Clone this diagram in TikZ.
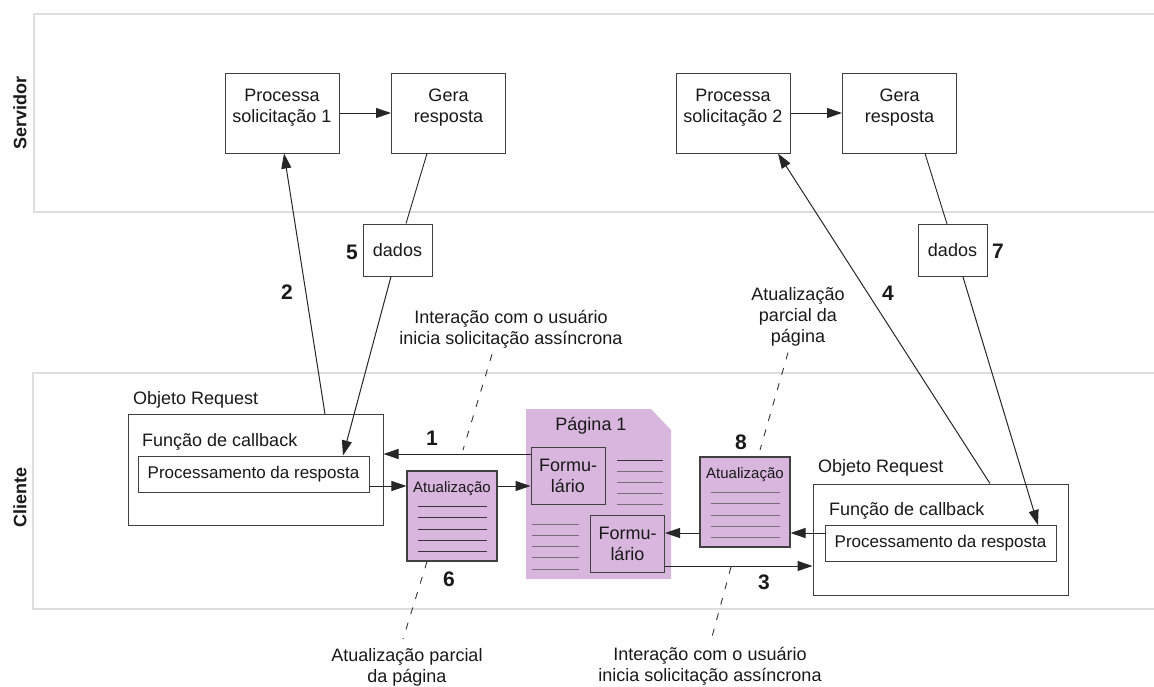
\documentclass[tikz,border=0pt]{standalone}
\usepackage{fontspec}
\setmainfont{Liberation Sans}
\usetikzlibrary{arrows,arrows.meta,calc}
\definecolor{lilas}{RGB}{216,182,222}
\definecolor{linhaescura}{RGB}{60,50,62}
\definecolor{linhaclara}{RGB}{120,110,122}
\tikzset{
    >={Triangle[length=15pt,width=10pt]},
    every node/.style={inner sep=0pt, text=black!90, font=\fontsize{18}{21}\selectfont},
    lane/.style={draw=black!13, line width=1.6pt},
    raia/.style={rotate=90, font=\fontsize{18}{20}\selectfont\bfseries},
    caixa/.style={draw=black!75, line width=1pt, fill=white, align=center},
    srv/.style={caixa, minimum width=114pt, minimum height=80pt, text depth=14pt},
    dadosbox/.style={caixa, minimum width=69pt, minimum height=52pt},
    objreq/.style={draw=black!75, line width=1pt, minimum width=255pt, minimum height=111pt},
    proc/.style={caixa, minimum width=231pt, minimum height=36pt, font=\fontsize{17}{20}\selectfont},
    atu/.style={draw=black!75, line width=1.1pt, fill=lilas, minimum width=90pt, minimum height=90pt},
    atutit/.style={font=\fontsize{15}{18}\selectfont},
    form/.style={caixa, fill=lilas, minimum width=74pt, minimum height=57pt},
    num/.style={font=\fontsize{21}{24}\selectfont\bfseries},
    nota/.style={align=center, font=\fontsize{18}{21}\selectfont},
    seta/.style={->, draw=black!85, line width=1pt},
    liga/.style={draw=black!85, line width=0.9pt},
    tracejado/.style={draw=black!80, line width=0.9pt, dash pattern=on 7pt off 9pt},
}

\begin{document}
\begin{tikzpicture}[x=1pt, y=-1pt]
\useasboundingbox (0,0) rectangle (1154,686);

% raias
\draw[lane] (1154,14) -| (34,212) -- (1154,212);
\draw[lane] (1154,373) -| (33,609) -- (1154,609);
\node[raia] (servidor) at (20,113) {Servidor};
\node[raia] (cliente) at (20,497) {Cliente};

% servidor
\node[srv] (P1) at (282,113) {Processa\\solicitação 1};
\node[srv] (G1) at (448.5,113) {Gera\\resposta};
\node[srv] (P2) at (733,113) {Processa\\solicitação 2};
\node[srv] (G2) at (899.5,113) {Gera\\resposta};
\node[dadosbox] (D1) at (397.5,250) {dados};
\node[dadosbox] (D2) at (952.5,250.5) {dados};

% cliente, lado esquerdo
\node[objreq] (OR1) at (255.5,470) {};
\node[anchor=west] (OR1t) at (133,400) {Objeto Request};
\node[anchor=west] (CB1) at (142,442) {Função de callback};
\node[proc] (PR1) at (253.5,474) {Processamento da resposta};

\node[atu] (A6) at (452,516) {};
\node[atutit] (A6t) at ([yshift=-18pt]A6.north) {Atualização};
\foreach \k in {0,...,4}
    \draw[linhaescura, line width=1pt] (A6.north) ++(-34.5,36+11.3*\k) -- ++(69,0);

% pagina
\fill[lilas] (526,409) -- (651,409) -- (671,430) -- (671,579) -- (526,579) -- cycle;
\node (pag) at (591,426) {Página 1};
\foreach \k/\c in {0/linhaescura,1/linhaclara,2/linhaclara,3/linhaclara,4/linhaclara}
    \draw[\c, line width=1pt] (617,460+11*\k) -- (663,460+11*\k);
\foreach \k in {0,...,4}
    \draw[linhaclara, line width=1pt] (532,524+11.3*\k) -- (579,524+11.3*\k);
\node[form] (F1) at (568,475.5) {Formu-\\lário};
\node[form] (F2) at (627.5,544) {Formu-\\lário};

% cliente, lado direito
\node[atu] (A8) at (745,502) {};
\node[atutit] (A8t) at ([yshift=-18pt]A8.north) {Atualização};
\foreach \k in {0,...,4}
    \draw[linhaclara, line width=1pt] (A8.north) ++(-34.5,36+11.3*\k) -- ++(69,0);

\node[objreq] (OR2) at (940.5,539.5) {};
\node[anchor=west] (OR2t) at (818,468) {Objeto Request};
\node[anchor=west] (CB2) at (829,511) {Função de callback};
\node[proc] (PR2) at (940.5,543.5) {Processamento da resposta};

% ligacoes servidor
\draw[seta] (P1) -- (G1);
\draw[seta] (P2) -- (G2);
\draw[seta] ([xshift=69.5pt]OR1.north) -- ([xshift=2pt]P1.south);
\draw[liga] ([xshift=-21.5pt]G1.south) -- ([xshift=8.5pt]D1.north);
\draw[seta] ([xshift=-6.5pt]D1.south) -- ([xshift=89.5pt]PR1.north);
\draw[seta] ([xshift=49.5pt]OR2.north) -- ([xshift=45pt]P2.south);
\draw[liga] ([xshift=25.5pt]G2.south) -- ([xshift=-5.5pt]D2.north);
\draw[seta] ([xshift=10.5pt]D2.south) -- ([xshift=97.5pt]PR2.north);

% ligacoes cliente
\coordinate (f1a) at ([yshift=21.5pt]F1.west);
\draw[seta] (f1a) -- (f1a -| OR1.east);
\coordinate (pr1a) at ([yshift=-12pt]PR1.east);
\draw[seta] (pr1a) -- (pr1a -| A6.west);
\draw[seta] (pr1a -| A6.east) -- (pr1a -| F1.west);
\coordinate (pr2a) at ([yshift=10.5pt]PR2.west);
\draw[seta] (pr2a) -- (pr2a -| A8.east);
\draw[seta] (pr2a -| A8.west) -- (pr2a -| F2.east);
\coordinate (f2a) at ([yshift=-22pt]F2.east);
\draw[seta] (f2a) -- (f2a -| OR2.west);

% numeros
\node[num] (n1) at (432,438) {1};
\node[num] (n2) at (287,292) {2};
\node[num] (n3) at (764,582) {3};
\node[num] (n4) at (888,293) {4};
\node[num] (n5) at (352,252) {5};
\node[num] (n6) at (449,579) {6};
\node[num] (n7) at (998,251) {7};
\node[num] (n8) at (741,442) {8};

% notas
\node[nota] (ia) at (511,329) {Interação com o usuário\\inicia solicitação assíncrona};
\node[nota] (ap) at (798,317) {Atualização\\parcial da\\página};
\node[nota] (apb) at (407,667) {Atualização parcial\\da página};
\node[nota] (iab) at (710,666) {Interação com o usuário\\inicia solicitação assíncrona};

\coordinate (ia-e) at (463,450);
\draw[tracejado] ([xshift=-19pt,yshift=-6pt]ia.south) -- (ia-e);
\coordinate (ap-e) at (760,450);
\draw[tracejado] ([xshift=-10pt,yshift=-6pt]ap.south) -- (ap-e);
\coordinate (apb-e) at (403,639);
\draw[tracejado] ([xshift=-25pt]A6.south) -- (apb-e);
\coordinate (iab-s) at (731,567);
\draw[tracejado] (iab-s) -- ([xshift=2pt,yshift=10pt]iab.north);
\end{tikzpicture}
\end{document}
